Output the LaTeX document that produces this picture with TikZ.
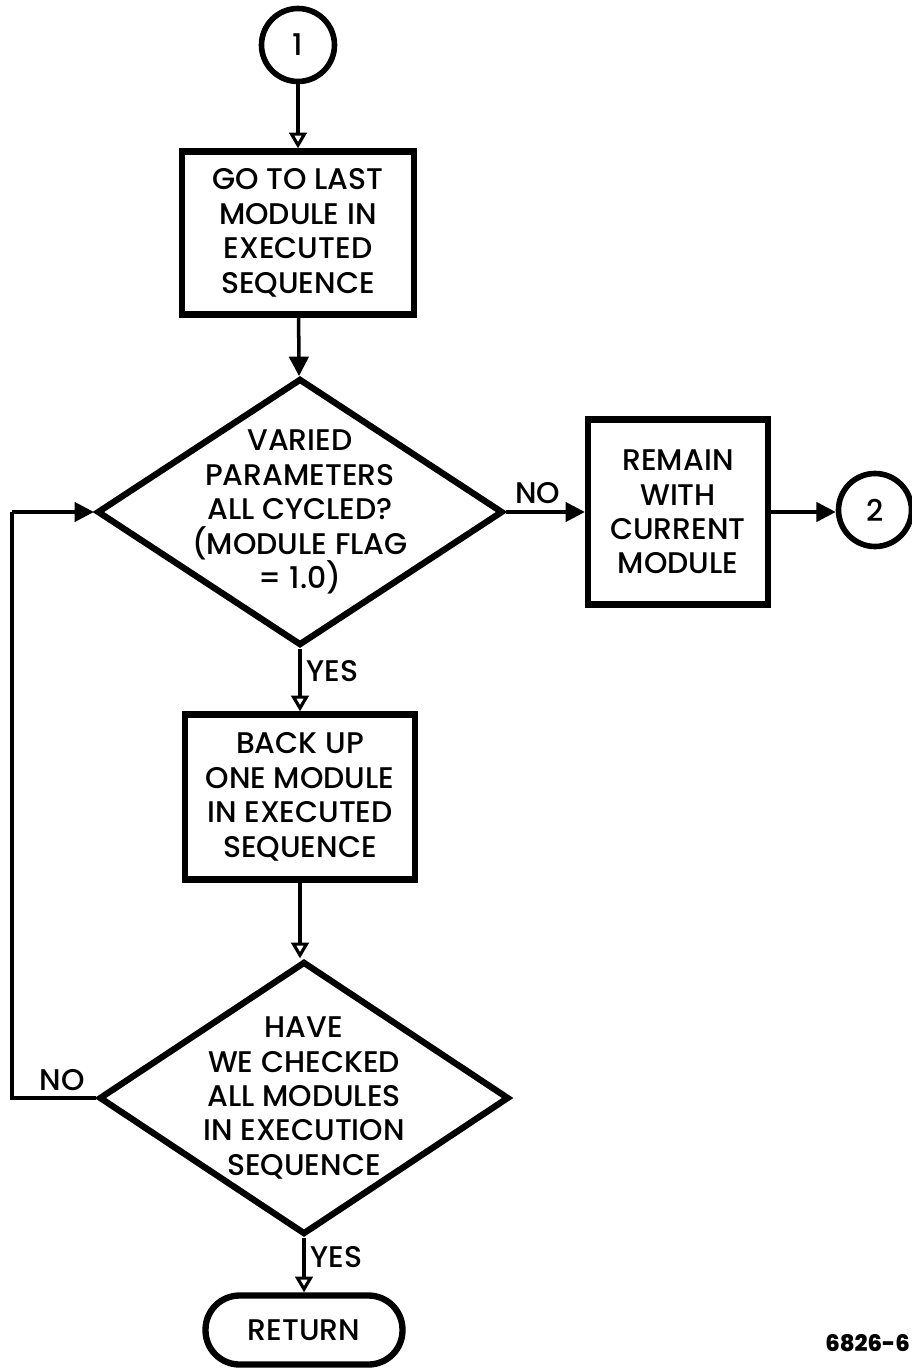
\documentclass[tikz,border=0pt]{standalone}
\usepackage{fontspec}
\setmainfont{Poppins}[UprightFont={* Medium}]
\usepackage{tikz}
\usetikzlibrary{positioning,arrows.meta,shapes.geometric,calc}

\begin{document}
\begin{tikzpicture}[
  x=0.02cm, y=-0.02cm,
  font=\fontsize{17}{19.6}\selectfont,
  procbox/.style={draw, line width=3.6pt, align=center, inner sep=0pt},
  decision/.style={diamond, draw, line width=3.6pt, inner sep=0pt, aspect=1.5},
  connector/.style={circle, draw, line width=3.2pt, minimum size=1.46cm, inner sep=0pt},
  terminal/.style={draw, line width=3.6pt, rounded corners=0.68cm,
                   minimum width=3.94cm, minimum height=1.38cm},
  txt/.style={align=center, inner sep=0pt},
  tag/.style={inner sep=1mm},
  flow/.style={line width=2pt, -{Triangle[length=11pt, width=11pt]}},
  openflow/.style={line width=2pt, -{Triangle[open, length=9pt, width=10pt, line width=1.8pt]}},
]
\useasboundingbox (0,0) rectangle (912,1368);

\node[connector] (c1) at (298,45) {1};
\node[procbox, minimum width=4.64cm, minimum height=3.26cm] (b1) at (298,233)
  {GO TO LAST\\MODULE IN\\EXECUTED\\SEQUENCE};
\node[decision, minimum width=8.12cm, minimum height=5.34cm,
  label={[txt]center:{VARIED\\PARAMETERS\\ALL CYCLED?\\(MODULE FLAG\\= 1.0)}}] (d1) at (300,512) {};
\node[procbox, minimum width=3.6cm, minimum height=3.7cm] (b3) at (678,512)
  {REMAIN\\WITH\\CURRENT\\MODULE};
\node[connector] (c2) at (875,510) {2};
\node[procbox, minimum width=4.6cm, minimum height=3.3cm] (b2) at (300,797)
  {BACK UP\\ONE MODULE\\IN EXECUTED\\SEQUENCE};
\node[decision, minimum width=8.2cm, minimum height=5.46cm,
  label={[txt]center:{HAVE\\WE CHECKED\\ALL MODULES\\IN EXECUTION\\SEQUENCE}}] (d2) at (304,1098) {};
\node[terminal] (ret) at (304,1330) {RETURN};
\coordinate (lp1) at (12,1098);
\coordinate (lp2) at (12,512);

% main line
\draw[openflow] (c1) -- (b1);
\draw[flow] (b1) -- (d1);
\draw[openflow] (d1.south) -- (b2.north -| d1.south)
  node[tag, pos=0.35, anchor=west] {YES};
\draw[openflow] (b2.south) -- (b2.south |- d2.north);
\draw[openflow] (d2.south) -- (ret.north -| d2.south)
  node[tag, pos=0.35, anchor=west] {YES};

% side branch
\draw[flow] (d1.east) -- (b3.west)
  node[tag, pos=0.4, above=1pt] {NO};
\draw[flow] (b3.east) -- (b3.east -| c2.west);

% loop back
\draw[line width=2pt] (d2.west) -- (lp1) -- (lp2);
\draw[flow] (lp2) -- (d1.west);
\node[tag, anchor=south] (no2) at (62,1096) {NO};

\node[anchor=east, inner sep=1pt, font=\fontsize{13}{15}\selectfont\bfseries] (fig) at (912,1343) {6826-6};
\end{tikzpicture}
\end{document}
